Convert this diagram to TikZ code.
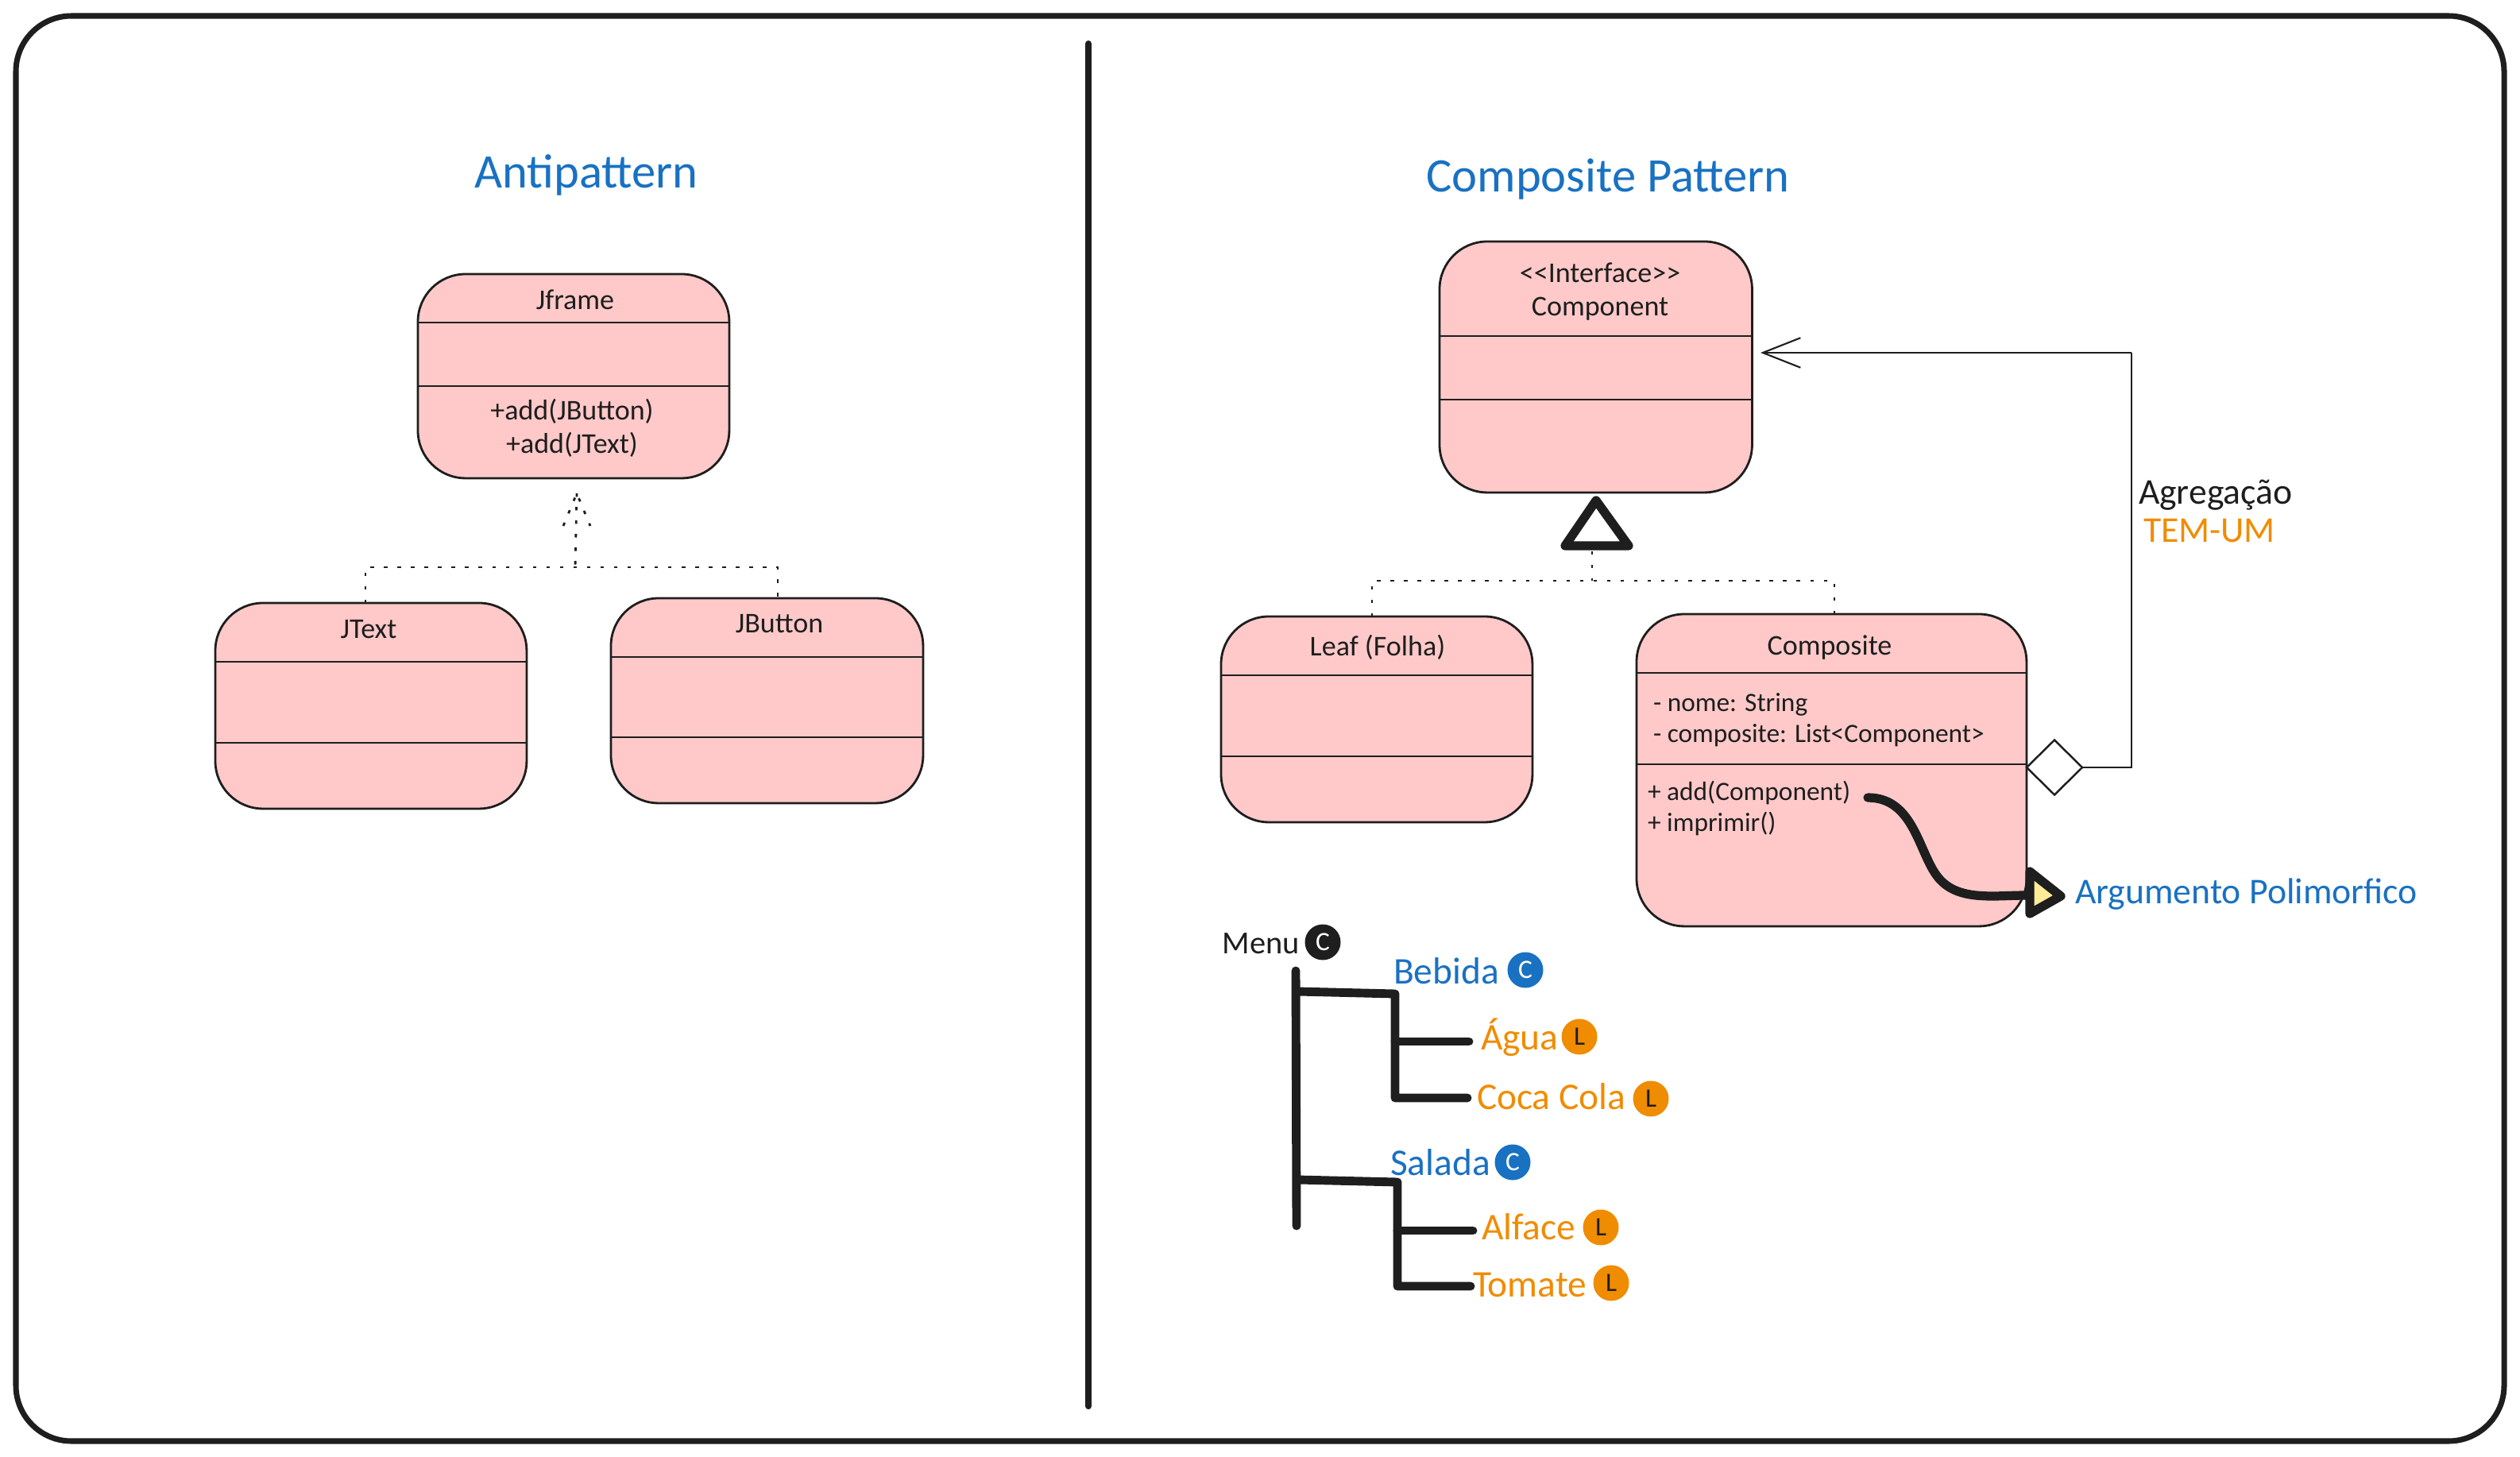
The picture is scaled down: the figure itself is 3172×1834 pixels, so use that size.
\documentclass[tikz,border=0pt]{standalone}
\usepackage{fontspec}
\setmainfont{Carlito}
\usetikzlibrary{arrows.meta, positioning, shapes.geometric}

\definecolor{inkc}{HTML}{1E1E1E}
\definecolor{pinkc}{HTML}{FFC9C9}
\definecolor{bluec}{HTML}{1971C2}
\definecolor{orangec}{HTML}{F08C00}
\definecolor{yellowc}{HTML}{FFEC99}

\begin{document}
\begin{tikzpicture}[
				x=0.02cm,
				y=-0.02cm,
				>=Stealth,
				every node/.style={outer sep=0pt, inner sep=0pt, text=inkc},
				classbox/.style={
					draw=inkc,
					fill=pinkc,
					line width=1.6pt,
					rounded corners=1.2cm,
					anchor=north west
				},
				sep/.style={
					draw=inkc,
					line width=1.7pt
				},
				label/.style={
					font=\fontsize{20.5}{24}\selectfont
				},
				small/.style={
					font=\fontsize{19}{22}\selectfont
				},
				title/.style={
					font=\fontsize{34.5}{40}\selectfont,
					text=bluec
				},
				note/.style={
					font=\fontsize{26}{30}\selectfont
				},
				treetext/.style={
					font=\fontsize{27}{31}\selectfont
				},
				badge/.style={
					circle,
					minimum size=0.9cm,
					font=\fontsize{19}{21}\selectfont
				},
				dots/.style={
					draw=inkc,
					line width=1.6pt,
					dash pattern=on 2.5pt off 7.2pt
				},
				thin arrow/.style={
					draw=inkc,
					line width=1.6pt
				},
				branch/.style={
					draw=inkc,
					line width=6.2pt,
					line cap=round,
					line join=round
				}
				]

				\useasboundingbox (0,0) rectangle (3172,1834);

				%------------------------------------------------
				% FRAME AND DIVIDER
				%------------------------------------------------

				\draw[draw=inkc, line width=4pt, rounded corners=1.4cm]
				(20,20) rectangle (3152,1814);

				\coordinate (divtop) at (1370,55);
				\coordinate (divbot) at (1370,1770);
				\draw[draw=inkc, line width=4.6pt, line cap=round] (divtop) -- (divbot);

				%------------------------------------------------
				% LEFT SIDE (antipattern)
				%------------------------------------------------

				\node[title] (antititle) at (738,220) {Antipattern};

				\node[classbox, minimum width=7.84cm, minimum height=5.14cm] (jframe) at (526,345) {};
				\draw[sep] (jframe.west |- 0,406) -- (jframe.east |- 0,406);
				\draw[sep] (jframe.west |- 0,486) -- (jframe.east |- 0,486);
				\node[label] (jframename) at (724,377) {Jframe};
				\node[label, align=center] (jframeops) at (720,539) {+add(JButton)\\+add(JText)};

				\node[classbox, minimum width=7.84cm, minimum height=5.18cm] (jtext) at (271,759) {};
				\draw[sep] (jtext.west |- 0,833) -- (jtext.east |- 0,833);
				\draw[sep] (jtext.west |- 0,935) -- (jtext.east |- 0,935);
				\node[label] (jtextname) at (464,792) {JText};

				\node[classbox, minimum width=7.86cm, minimum height=5.16cm] (jbutton) at (769,753) {};
				\draw[sep] (jbutton.west |- 0,827) -- (jbutton.east |- 0,827);
				\draw[sep] (jbutton.west |- 0,928) -- (jbutton.east |- 0,928);
				\node[label] (jbuttonname) at (981,785) {JButton};

				% dotted realization arrow
				\coordinate (antihub) at (724,714);
				\coordinate (antitip) at (726,621);
				\coordinate (antibarbl) at (709,662);
				\coordinate (antibarbr) at (743,662);
				\draw[dots] (antibarbl) -- (antitip) -- (antibarbr);
				\draw[dots] (antitip) -- (antihub);
				\draw[dots] (jtext.north west -| 460,0) -- (460,714) -- (979,714) -- (jbutton.north west -| 979,0);

				%------------------------------------------------
				% RIGHT SIDE (composite pattern)
				%------------------------------------------------

				\node[title] (comptitle) at (2024,226) {Composite Pattern};

				\node[classbox, minimum width=7.87cm, minimum height=6.32cm] (component) at (1812,304) {};
				\draw[sep] (component.west |- 0,423) -- (component.east |- 0,423);
				\draw[sep] (component.west |- 0,503) -- (component.east |- 0,503);
				\node[label, align=center] (componentname) at (2014,367) {<{}<Interface>{}>\\Component};

				\node[classbox, minimum width=7.84cm, minimum height=5.18cm] (leaf) at (1537,776) {};
				\draw[sep] (leaf.west |- 0,850) -- (leaf.east |- 0,850);
				\draw[sep] (leaf.west |- 0,952) -- (leaf.east |- 0,952);
				\node[label] (leafname) at (1734,815) {Leaf (Folha)};

				\node[classbox, minimum width=9.82cm, minimum height=7.86cm] (composite) at (2060,773) {};
				\draw[sep] (composite.west |- 0,847) -- (composite.east |- 0,847);
				\draw[sep] (composite.west |- 0,962) -- (composite.east |- 0,962);
				\node[label] (compositename) at (2303,815) {Composite};
				\node[small, anchor=west] (compositeattr) at (2081,907)
				{\begin{tabular}{@{}l@{}}- nome: String\\- composite: List<Component>\end{tabular}};
				\node[small, anchor=west] (compositeops) at (2074,1019)
				{\begin{tabular}{@{}l@{}}+ add(Component)\\+ imprimir()\end{tabular}};

				% generalization triangle
				\coordinate (gentip) at (2009,630);
				\coordinate (genleft) at (1970,687);
				\coordinate (genright) at (2050,687);
				\coordinate (genhub) at (2004,731);
				\draw[branch, line width=6.4pt, fill=white] (gentip) -- (genleft) -- (genright) -- cycle;
				\draw[dots] (2004,694) -- (genhub);
				\draw[dots] (leaf.north west -| 1727,0) -- (1727,731) -- (2309,731) -- (composite.north west -| 2309,0);

				% aggregation
				\node[diamond, draw=inkc, fill=white, line width=1.4pt, minimum width=1.4cm, minimum height=1.38cm, aspect=1] (aggr) at (2586,966) {};
				\coordinate (aggrcorner) at (2683,966);
				\coordinate (aggrtop) at (2683,444);
				\draw[thin arrow] (aggr.east) -- (aggrcorner) -- (aggrtop);
				\draw[thin arrow, -{Straight Barb[length=0.95cm, width=0.75cm, line width=1.2pt]}] (aggrtop) -- (2216,444);

				\node[note, anchor=west] (agrega) at (2692,623) {Agregação};
				\node[note, text=orangec, anchor=west] (temum) at (2698,668) {TEM-UM};

				% polymorphic argument
				\coordinate (argstart) at (2351,1004);
				\coordinate (argend) at (2551,1127);
				\draw[branch, line width=6.4pt]
				(argstart) .. controls (2410,1004) and (2415,1075) .. (2440,1105)
				.. controls (2465,1135) and (2510,1127) .. (argend);
				\coordinate (argtop) at (2555,1097);
				\coordinate (argtip) at (2594,1128);
				\coordinate (argbot) at (2555,1150);
				\draw[branch, line width=6.4pt, fill=yellowc] (argtop) -- (argtip) -- (argbot) -- cycle;
				\node[note, text=bluec, anchor=west] (argnote) at (2612,1126) {Argumento Polimorfico};

				%------------------------------------------------
				% MENU TREE
				%------------------------------------------------

				\node[treetext, font=\fontsize{23}{27}\selectfont] (menu) at (1587,1188) {Menu};
				\node[badge, fill=inkc, text=white] (menubadge) at (1665,1186) {C};

				\node[treetext, text=bluec, anchor=west] (bebida) at (1754,1222) {Bebida};
				\node[badge, fill=bluec, text=white] (bebidabadge) at (1920,1221) {C};

				\node[treetext, text=orangec, anchor=west] (agua) at (1864,1306) {Água};
				\node[badge, fill=orangec] (aguabadge) at (1988,1305) {L};

				\node[treetext, text=orangec, anchor=west] (coca) at (1859,1380) {Coca Cola};
				\node[badge, fill=orangec] (cocabadge) at (2078,1383) {L};

				\node[treetext, text=bluec, anchor=west] (salada) at (1750,1463) {Salada};
				\node[badge, fill=bluec, text=white] (saladabadge) at (1904,1463) {C};

				\node[treetext, text=orangec, anchor=west] (alface) at (1865,1544) {Alface};
				\node[badge, fill=orangec] (alfacebadge) at (2015,1545) {L};

				\node[treetext, text=orangec, anchor=west] (tomate) at (1854,1617) {Tomate};
				\node[badge, fill=orangec] (tomatebadge) at (2028,1615) {L};

				\coordinate (treetop) at (1631,1222);
				\coordinate (treebot) at (1632,1543);
				\draw[branch] (treetop) -- (treebot);

				\draw[branch] (1633,1248) -- (1756,1251) -- (1756,1382) -- (1847,1382);
				\draw[branch] (1756,1311) -- (1849,1311);
				\draw[branch] (1634,1485) -- (1759,1488) -- (1759,1619) -- (1851,1619);
				\draw[branch] (1759,1549) -- (1854,1549);

			\end{tikzpicture}
\end{document}
